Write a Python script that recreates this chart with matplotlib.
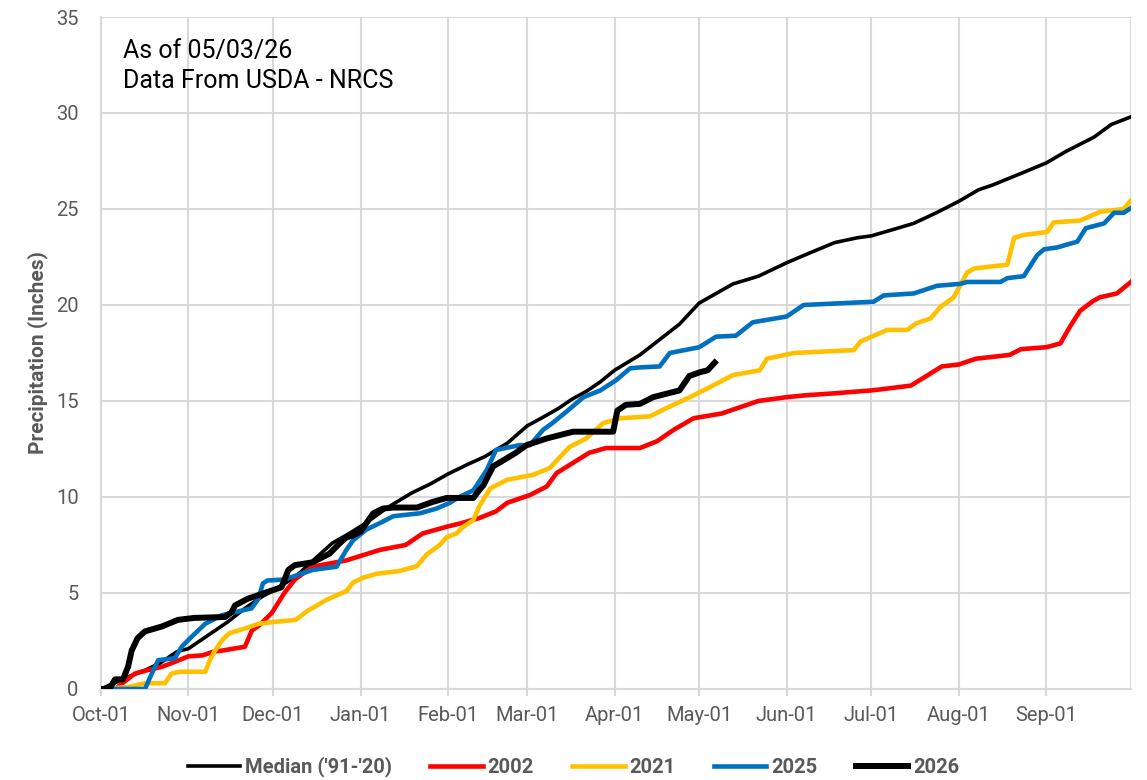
import matplotlib
matplotlib.use("Agg")
import matplotlib.pyplot as plt

# Water-year day index (0 = Oct-01) and cumulative precipitation (inches)
median_day = [0, 10, 16, 21, 27, 31, 33, 39, 45, 51, 57, 63, 69, 76, 82, 88, 94, 101, 110, 117, 123,
              130, 136, 144, 151, 156, 162, 167, 172, 177, 182, 191, 198, 205, 212, 218, 224, 233,
              243, 251, 260, 268, 273, 280, 288, 296, 304, 311, 316, 326, 335, 342, 352, 358, 365]
median_val = [0, 0.65, 1.0, 1.35, 1.95, 2.1, 2.3, 2.9, 3.5, 4.2, 4.8, 5.3, 5.85, 6.8, 7.6, 8.1, 8.65,
              9.4, 10.2, 10.7, 11.2, 11.7, 12.1, 12.8, 13.7, 14.1, 14.6, 15.1, 15.5, 16.0, 16.6,
              17.4, 18.2, 19.0, 20.1, 20.6, 21.1, 21.5, 22.2, 22.7, 23.25, 23.5, 23.6, 23.9, 24.25,
              24.8, 25.4, 26.0, 26.25, 26.85, 27.4, 28.0, 28.75, 29.4, 29.8]

y2002_day = [0, 5, 8.5, 12, 17, 21.5, 26, 31, 36, 40, 43, 51, 53.5, 56, 60.5, 65, 68.7, 75, 87, 99,
             108, 114, 122.5, 128, 134, 140, 144, 152, 158, 161.5, 167, 173, 179, 191, 197, 203,
             210, 220, 233, 243, 250, 260, 273, 276, 287, 298, 304, 310, 322, 326, 335, 340, 343.5,
             347, 351.5, 354, 360, 365]
y2002_val = [0, 0, 0.4, 0.8, 1.0, 1.15, 1.4, 1.7, 1.75, 1.95, 2.0, 2.2, 3.05, 3.3, 3.95, 5.0, 5.7,
             6.37, 6.7, 7.25, 7.5, 8.1, 8.45, 8.65, 8.9, 9.25, 9.7, 10.1, 10.55, 11.25, 11.75, 12.3,
             12.55, 12.55, 12.9, 13.5, 14.1, 14.35, 15.0, 15.2, 15.3, 15.4, 15.55, 15.6, 15.8, 16.8,
             16.9, 17.2, 17.4, 17.7, 17.8, 18.0, 18.9, 19.7, 20.2, 20.4, 20.6, 21.2]

y2021_day = [0, 9.6, 15.6, 22.7, 25, 28, 37, 38.6, 40.2, 43, 45.5, 51, 56, 62, 69, 73, 80, 87, 89.4,
             93, 97.7, 106, 112, 115.4, 120, 122.5, 126, 128, 132, 134, 138, 144, 153, 159, 166, 172,
             178, 184, 194.5, 200, 208.7, 215.5, 224, 233.5, 236, 245.5, 266.8, 269.2, 278.6, 285.7,
             289, 294, 297.5, 302.2, 307, 309.4, 321.2, 323.6, 327, 335.3, 337.6, 347, 354, 362.4, 365]
y2021_val = [0, 0.1, 0.3, 0.3, 0.8, 0.9, 0.9, 1.5, 1.95, 2.55, 2.9, 3.15, 3.4, 3.5, 3.6, 4.05, 4.65,
             5.1, 5.55, 5.8, 6.0, 6.15, 6.4, 7.0, 7.5, 7.9, 8.1, 8.4, 8.8, 9.5, 10.45, 10.9, 11.15,
             11.5, 12.6, 13.05, 13.85, 14.1, 14.2, 14.6, 15.2, 15.7, 16.35, 16.6, 17.2, 17.5, 17.65,
             18.1, 18.7, 18.7, 19.05, 19.3, 19.9, 20.4, 21.7, 21.9, 22.1, 23.5, 23.65, 23.8, 24.3,
             24.4, 24.85, 25.0, 25.45]

y2025_day = [0, 2, 15.6, 18, 20.3, 26.2, 28.6, 32, 37, 43, 47.5, 53.4, 55.8, 57.4, 59, 65, 75, 83.5,
             87, 89.4, 94, 99, 103.6, 113, 119, 123.7, 127, 132, 136.7, 140, 148.5, 152, 156.7, 160,
             165, 171, 177, 182.7, 187.5, 191, 198, 201.6, 212, 218, 225, 231, 243, 249, 273.8,
             277.4, 288, 296.3, 304.5, 307, 318.8, 321.2, 327, 331.8, 334.2, 338.9, 346, 349, 355.5,
             359, 362.4, 365]
y2025_val = [0, 0, 0, 0.8, 1.5, 1.6, 2.2, 2.7, 3.4, 3.85, 4.0, 4.2, 4.7, 5.5, 5.65, 5.7, 6.2, 6.37,
             7.25, 7.75, 8.3, 8.65, 9.0, 9.15, 9.4, 9.7, 10.0, 10.35, 11.4, 12.45, 12.7, 12.7, 13.5,
             13.85, 14.45, 15.2, 15.55, 16.1, 16.7, 16.75, 16.8, 17.5, 17.8, 18.35, 18.4, 19.1, 19.4,
             20.0, 20.17, 20.5, 20.6, 21.0, 21.1, 21.2, 21.2, 21.4, 21.5, 22.6, 22.9, 23.0, 23.3,
             24.0, 24.25, 24.8, 24.8, 25.05]

y2026_day = [0, 3, 5, 7.8, 9.6, 10.9, 13, 15.6, 21.5, 27.3, 33, 44, 46.3, 47.5, 52, 58, 64, 66.4,
             68.7, 73, 75, 81, 84.7, 87, 89.4, 92, 96.5, 100, 103.6, 112, 117.7, 122.5, 132, 134,
             135.5, 139, 140.8, 147, 150.8, 158, 167.3, 181.5, 183, 186, 191, 195.7, 197, 205, 208.5,
             212.3, 215, 217.5]
y2026_val = [0, 0, 0.5, 0.5, 1.15, 2.0, 2.65, 3.0, 3.25, 3.6, 3.7, 3.75, 4.0, 4.35, 4.7, 5.0, 5.3,
             6.2, 6.45, 6.55, 6.6, 7.05, 7.6, 7.9, 8.0, 8.2, 9.15, 9.4, 9.45, 9.45, 9.75, 9.95, 9.95,
             10.35, 10.6, 11.6, 11.75, 12.3, 12.7, 13.05, 13.4, 13.4, 14.5, 14.8, 14.85, 15.2, 15.25,
             15.55, 16.3, 16.5, 16.6, 17.0]

month_days = [0, 31, 61, 92, 123, 151, 182, 212, 243, 273, 304, 335]
month_labels = ["Oct-01", "Nov-01", "Dec-01", "Jan-01", "Feb-01", "Mar-01", "Apr-01",
                "May-01", "Jun-01", "Jul-01", "Aug-01", "Sep-01"]

GRAY = "#595959"
GRID = "#D9D9D9"
plt.rcParams["font.family"] = ["Roboto", "DejaVu Sans"]

fig = plt.figure(figsize=(11.47, 7.8), dpi=100)
ax = fig.add_axes([0.088, 0.1167, 0.898, 0.8615])

ax.plot(median_day, median_val, color="black", lw=2.6, label="Median ('91-'20)", zorder=3)
ax.plot(y2002_day, y2002_val, color="#FF0000", lw=3.3, label="2002", zorder=3)
ax.plot(y2021_day, y2021_val, color="#FFC000", lw=3.3, label="2021", zorder=3)
ax.plot(y2025_day, y2025_val, color="#0070C0", lw=3.3, label="2025", zorder=3)
ax.plot(y2026_day, y2026_val, color="black", lw=4.3, label="2026", zorder=4)

ax.set_xlim(0, 365)
ax.set_ylim(0, 35)
ax.set_xticks(month_days)
ax.set_xticklabels(month_labels)
ax.set_yticks(range(0, 36, 5))
ax.grid(True, color=GRID, lw=1.5, zorder=0)
for s in ["top", "right"]:
    ax.spines[s].set_visible(False)
ax.axvline(365, color=GRID, lw=1.5, zorder=0)
ax.spines["left"].set_color(GRID)
ax.spines["left"].set_linewidth(1.5)
ax.spines["bottom"].set_color(GRID)
ax.spines["bottom"].set_linewidth(1.5)
ax.tick_params(axis="x", colors=GRID, labelcolor=GRAY, labelsize=14.5, length=5, width=1.5, pad=7)
ax.tick_params(axis="y", length=0, labelcolor=GRAY, labelsize=14.5, pad=16)

ax.set_ylabel("Precipitation (Inches)", color=GRAY, fontsize=15, fontweight="bold", labelpad=6)

ax.text(0.021, 0.968, "As of 05/03/26\nData From USDA - NRCS", transform=ax.transAxes,
        fontsize=18, va="top", ha="left", linespacing=1.35, color="black")

fig.legend(loc="lower center", bbox_to_anchor=(0.5, -0.02), ncol=5, frameon=False,
           handlelength=2.6, handletextpad=0.25, columnspacing=1.9,
           prop={"weight": "bold", "size": 14.5}, labelcolor=GRAY)

fig.savefig("out.png", dpi=100)
